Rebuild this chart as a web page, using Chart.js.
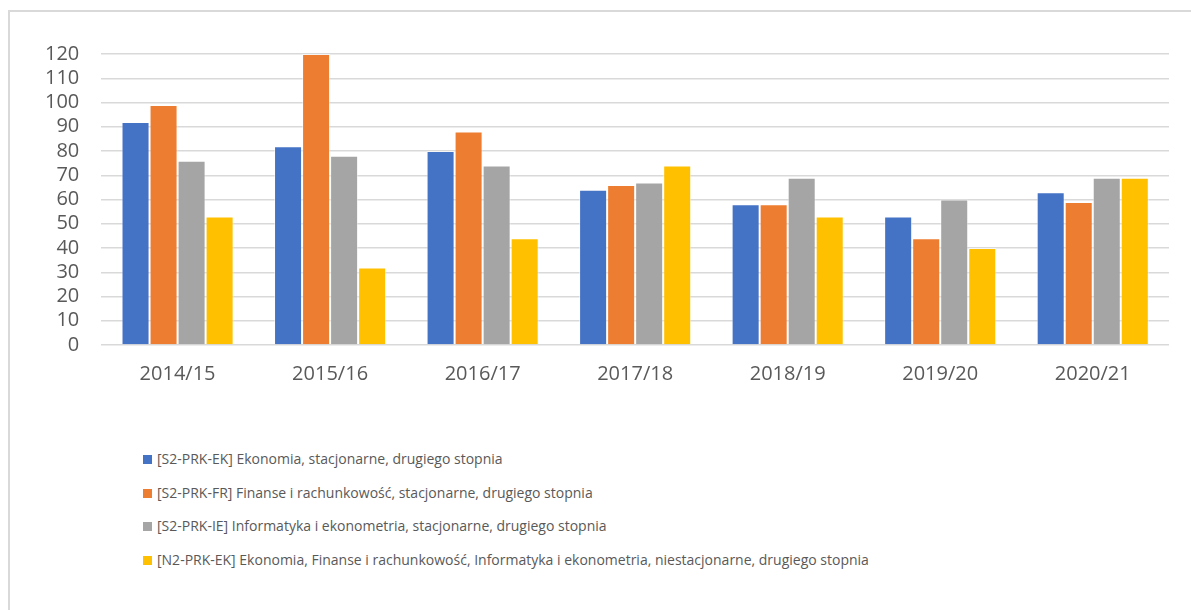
<!DOCTYPE html>
<html>
<head>
<meta charset="utf-8">
<script src="https://cdn.jsdelivr.net/npm/chart.js@4/dist/chart.umd.min.js"></script>
<style>
  body { margin: 0; background: #fff; font-family: "Open Sans", sans-serif; }
  #frame { position: absolute; left: 8px; top: 10px; width: 1200px; height: 620px;
           border-left: 2px solid #d9d9d9; border-top: 2px solid #d9d9d9; }
  #wrap { position: absolute; left: 0; top: 0; width: 1181px; height: 393px; }
  #legend { position: absolute; left: 133px; top: 438px; color: #595959; font-size: 14px; }
  #legend div { height: 33.7px; line-height: 18px; white-space: nowrap; }
  #legend span { display: inline-block; width: 9px; height: 9px; margin-right: 5px; }
</style>
</head>
<body>
<div id="frame">
  <div id="wrap"><canvas id="chart"></canvas></div>
  <div id="legend"></div>
</div>
<script>
var years = ['2014/15', '2015/16', '2016/17', '2017/18', '2018/19', '2019/20', '2020/21'];
var seriesNames = [
  '[S2-PRK-EK] Ekonomia, stacjonarne, drugiego stopnia',
  '[S2-PRK-FR] Finanse i rachunkowość, stacjonarne, drugiego stopnia',
  '[S2-PRK-IE] Informatyka i ekonometria, stacjonarne, drugiego stopnia',
  '[N2-PRK-EK] Ekonomia, Finanse i rachunkowość, Informatyka i ekonometria, niestacjonarne, drugiego stopnia'
];
var ekValues = [92, 82, 80, 64, 58, 53, 63];
var frValues = [99, 120, 88, 66, 58, 44, 59];
var ieValues = [76, 78, 74, 67, 69, 60, 69];
var n2Values = [53, 32, 44, 74, 53, 40, 69];
var colors = ['#4472C4', '#ED7D31', '#A5A5A5', '#FFC000'];

var allValues = [ekValues, frValues, ieValues, n2Values];
var datasets = [];
for (var i = 0; i < allValues.length; i++) {
  datasets.push({
    label: seriesNames[i],
    data: allValues[i],
    backgroundColor: colors[i],
    borderColor: 'rgba(255,255,255,0.5)',
    borderWidth: 1,
    categoryPercentage: 0.735,
    barPercentage: 1
  });
}

var ctx = document.getElementById('chart');
new Chart(ctx, {
  type: 'bar',
  data: { labels: years, datasets: datasets },
  options: {
    responsive: true,
    maintainAspectRatio: false,
    animation: false,
    layout: { padding: { left: 13, right: 22, top: 42, bottom: 10 } },
    plugins: { legend: { display: false }, tooltip: { enabled: false } },
    scales: {
      x: {
        grid: { display: false },
        border: { display: false },
        ticks: { color: '#595959', font: { family: 'Open Sans', size: 20 }, padding: 9 }
      },
      y: {
        min: 0, max: 120,
        ticks: { stepSize: 10, autoSkip: false, color: '#595959', font: { family: 'Open Sans', size: 20 }, padding: 22 },
        grid: { color: '#d9d9d9', lineWidth: 1.5, drawTicks: false },
        border: { display: false }
      }
    }
  }
});

// legend, one entry per row
var leg = document.getElementById('legend');
for (var j = 0; j < seriesNames.length; j++) {
  var row = document.createElement('div');
  var sw = document.createElement('span');
  sw.style.background = colors[j];
  row.appendChild(sw);
  row.appendChild(document.createTextNode(seriesNames[j]));
  leg.appendChild(row);
}
</script>
</body>
</html>
